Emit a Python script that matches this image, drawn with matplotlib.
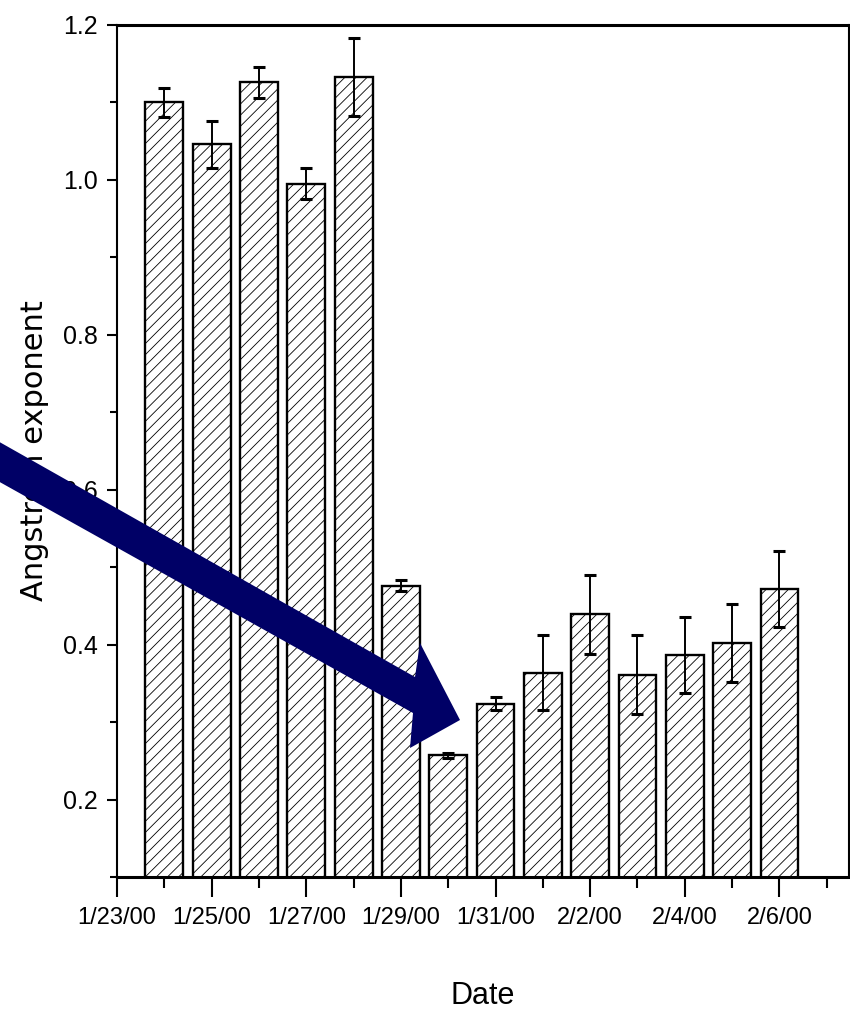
import numpy as np
import matplotlib
matplotlib.use('Agg')
import matplotlib.pyplot as plt
import matplotlib.dates as mdate
from matplotlib.patches import Polygon
from matplotlib.transforms import IdentityTransform
from datetime import datetime, timedelta

# Daily Angstrom exponent with standard deviation
dates = [datetime(2000, 1, 24) + timedelta(days=i) for i in range(14)]
angstrom = [1.100, 1.046, 1.126, 0.995, 1.133, 0.476, 0.257,
            0.324, 0.364, 0.439, 0.361, 0.387, 0.402, 0.472]
angstrom_err = [0.019, 0.030, 0.020, 0.020, 0.050, 0.007, 0.003,
                0.009, 0.049, 0.051, 0.051, 0.049, 0.050, 0.049]

major_dates = [datetime(2000, 1, 23) + timedelta(days=2 * i) for i in range(8)]
major_labels = ['1/23/00', '1/25/00', '1/27/00', '1/29/00',
                '1/31/00', '2/2/00', '2/4/00', '2/6/00']
minor_dates = [datetime(2000, 1, 24) + timedelta(days=2 * i) for i in range(8)]
y_major = [0.2, 0.4, 0.6, 0.8, 1.0, 1.2]
y_minor = [0.1, 0.3, 0.5, 0.7, 0.9, 1.1]

font = 'Liberation Sans'
plt.rcParams['hatch.linewidth'] = 0.6

fig = plt.figure(figsize=(8.5, 10.11), dpi=100)
ax = fig.add_axes([117 / 850, 1 - 877 / 1011, 732 / 850, 852 / 1011])

x = mdate.date2num(dates)
ax.bar(x, angstrom, width=0.8, color='white', edgecolor='black',
       linewidth=1.7, hatch='///', zorder=2)
ax.errorbar(x, angstrom, yerr=angstrom_err, fmt='none', ecolor='black',
            elinewidth=1.4, capsize=4.3, capthick=2.2, zorder=3)

start = mdate.date2num(datetime(2000, 1, 23))
ax.set_xlim(start, start + 15.47)
ax.set_ylim(0.1, 1.2)

ax.set_xticks(mdate.date2num(major_dates))
ax.set_xticklabels(major_labels)
ax.set_xticks(mdate.date2num(minor_dates), minor=True)
ax.set_yticks(y_major)
ax.set_yticklabels(['%.1f' % v for v in y_major])
ax.set_yticks(y_minor, minor=True)

ax.tick_params(axis='x', which='major', length=14.5, width=1.5, pad=7,
               direction='out', labelsize=17)
ax.tick_params(axis='x', which='minor', length=8, width=1.5, direction='out')
ax.tick_params(axis='y', which='major', length=7.5, width=1.5, pad=6,
               direction='out', labelsize=18)
ax.tick_params(axis='y', which='minor', length=5, width=1.5, direction='out')
for lab in ax.get_xticklabels() + ax.get_yticklabels():
    lab.set_fontfamily(font)

for side in ['top', 'bottom']:
    ax.spines[side].set_linewidth(2.2)
for side in ['left', 'right']:
    ax.spines[side].set_linewidth(1.5)

ax.set_xlabel('Date', fontsize=22, fontfamily=font, va='top')
ax.xaxis.set_label_coords(0.5, -0.1215)
ax.set_ylabel('Angstrom exponent', fontsize=22, fontfamily='DejaVu Sans')
ax.yaxis.set_label_coords(-0.093, 0.5)

# big pointer onto the 1/30 minimum, outline given in image pixels (y down)
arrow_px = [(-20, 431), (415, 677), (420, 643), (460, 720),
            (410, 748), (413, 713), (-20, 471)]
arrow = Polygon([(px, 1011 - py) for px, py in arrow_px], closed=True,
                facecolor='#000066', edgecolor='none',
                transform=IdentityTransform(), zorder=5)
fig.add_artist(arrow)

fig.savefig('out.png', dpi=100)
